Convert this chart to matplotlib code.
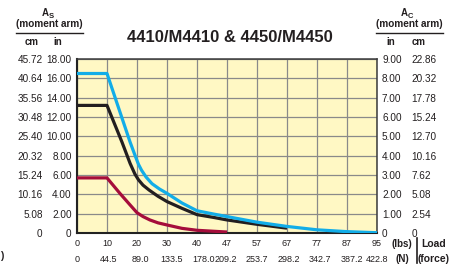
import matplotlib
matplotlib.use("Agg")
import matplotlib.pyplot as plt
import numpy as np

plt.rcParams['font.family'] = ['Liberation Sans', 'DejaVu Sans']

# x axis: evenly spaced ticks, non-linear load values
load_lbs = [0, 10, 20, 30, 40, 47, 57, 67, 77, 87, 95]
load_n = ['0', '44.5', '89.0', '133.5', '178.0', '209.2', '253.7',
          '298.2', '342.7', '387.2', '422.8']
arm_in = [0, 2, 4, 6, 8, 10, 12, 14, 16, 18]
arm_in_right = [0, 1, 2, 3, 4, 5, 6, 7, 8, 9]

# curves (load in lbs, moment arm in inches on the left scale)
blue_x = [0, 10, 17.7, 19.5, 20.5, 21.5, 23, 25, 27.5, 30, 35, 40, 44, 47,
          57, 67, 77, 87, 95]
blue_y = [16.5, 16.5, 9.4, 7.9, 7.1, 6.5, 5.8, 5.1, 4.55, 4.1, 3.1, 2.3,
          1.95, 1.7, 1.12, 0.68, 0.33, 0.14, 0.03]
black_x = [0, 10, 15, 17.7, 19.3, 20.5, 22, 24, 27, 30, 35, 40, 44, 47,
           57, 67]
black_y = [13.2, 13.2, 9.4, 7.2, 6.1, 5.5, 4.95, 4.45, 3.8, 3.25, 2.55, 1.9,
           1.6, 1.35, 0.9, 0.5]
red_x = [0, 10, 14.3, 17.7, 20, 22, 24.3, 27, 30, 35, 40, 47]
red_y = [5.7, 5.7, 4.1, 2.9, 2.1, 1.7, 1.35, 1.05, 0.83, 0.48, 0.28, 0.1]

txt = '#231f20'


def fwd(x):
    return np.interp(x, load_lbs, np.arange(len(load_lbs)))


def inv(x):
    return np.interp(x, np.arange(len(load_lbs)), load_lbs)


def fmt(v):
    return '0' if v == 0 else '%.2f' % v


fig = plt.figure(figsize=(4.66, 2.65), dpi=100)
ax = fig.add_axes([77 / 466, 1 - 233 / 265, 300 / 466, 174 / 265])
ax.set_xscale('function', functions=(fwd, inv))
ax.set_facecolor('#fff8c4')

ax.plot(red_x, red_y, color='#a50d3b', lw=2.3, solid_capstyle='butt', zorder=3)
ax.plot(black_x, black_y, color='#231f20', lw=2.3, solid_capstyle='butt', zorder=3)
ax.plot(blue_x, blue_y, color='#12ade8', lw=2.3, solid_capstyle='butt', zorder=4)

ax.set_xlim(0, 95)
ax.set_ylim(0, 18)
ax.grid(True, color='#8a8a8a', lw=0.9)
ax.set_axisbelow(True)
for s in ax.spines.values():
    s.set_color('#3a3a3a')
    s.set_linewidth(1.1)
ax.spines['left'].set_color('#222222')
ax.spines['bottom'].set_color('#222222')
ax.spines['left'].set_linewidth(1.5)
ax.spines['bottom'].set_linewidth(1.5)

ysize = 7.2
xsize = 6.5

# left: inches
ax.set_yticks(arm_in, labels=[fmt(v) for v in arm_in])
ax.tick_params(axis='y', length=0, pad=3.8, labelsize=ysize, labelcolor=txt)
# bottom: lbs
ax.set_xticks(load_lbs, labels=[str(v) for v in load_lbs])
ax.tick_params(axis='x', length=0, pad=4.2, labelsize=xsize, labelcolor=txt)

# left: cm
lcm = ax.secondary_yaxis('left', functions=(lambda y: y * 2.54, lambda y: y / 2.54))
lcm.set_yticks([v * 2.54 for v in arm_in], labels=[fmt(v * 2.54) for v in arm_in])
lcm.tick_params(length=0, pad=24.7, labelsize=ysize, labelcolor=txt)
lcm.spines['left'].set_visible(False)

# right: inches and cm
rin = ax.secondary_yaxis('right', functions=(lambda y: y / 2, lambda y: y * 2))
rin.set_yticks(arm_in_right, labels=[fmt(v) for v in arm_in_right])
rin.tick_params(length=0, pad=3.6, labelsize=ysize, labelcolor=txt)
rin.spines['right'].set_visible(False)
rcm = ax.secondary_yaxis('right', functions=(lambda y: y / 2 * 2.54, lambda y: y * 2 / 2.54))
rcm.set_yticks([v * 2.54 for v in arm_in_right], labels=[fmt(v * 2.54) for v in arm_in_right])
rcm.tick_params(length=0, pad=24.8, labelsize=ysize, labelcolor=txt)
rcm.spines['right'].set_visible(False)

# bottom: newtons
bn = ax.secondary_xaxis('bottom', functions=(lambda x: x, lambda x: x))
bn.set_xticks(load_lbs, labels=load_n)
bn.tick_params(length=0, pad=15.5, labelsize=xsize, labelcolor=txt)
bn.spines['bottom'].set_visible(False)

# title
fig.text(230 / 466, 1 - 37 / 265, '4410/M4410 & 4450/M4450', ha='center', va='center',
         fontsize=12, fontweight='bold', color=txt)

# headers
def header(cx, ax_x, sub, x0, x1, cols):
    fig.text(ax_x / 466, 1 - 13 / 265, 'A', ha='right', va='center', fontsize=7,
             fontweight='bold', color=txt)
    fig.text((ax_x + 0.5) / 466, 1 - 16 / 265, sub, ha='left', va='center', fontsize=5.5,
             fontweight='bold', color=txt)
    fig.text(cx / 466, 1 - 24 / 265, '(moment arm)', ha='center', va='center', fontsize=7.2,
             fontweight='bold', color=txt)
    fig.add_artist(plt.Line2D([x0 / 466, x1 / 466], [1 - 33 / 265, 1 - 33 / 265],
                              color=txt, lw=1.0))
    for label, x in cols:
        fig.text(x / 466, 1 - 42 / 265, label, ha='center', va='center', fontsize=7,
                 fontweight='bold', color=txt)


header(49.5, 48.5, 'S', 16, 83, [('cm', 31.5), ('in', 57.5)])
header(409.5, 407.5, 'C', 376, 443, [('in', 391), ('cm', 418.5)])

# load label block
fig.text(402 / 466, 1 - 244 / 265, '(lbs)', ha='center', va='center', fontsize=7,
         fontweight='bold', color=txt)
fig.text(402 / 466, 1 - 258.5 / 265, '(N)', ha='center', va='center', fontsize=7,
         fontweight='bold', color=txt)
fig.add_artist(plt.Line2D([416.5 / 466, 416.5 / 466], [1 - 238 / 265, 1 - 263 / 265],
                          color=txt, lw=1.2))
fig.text(434 / 466, 1 - 244 / 265, 'Load', ha='center', va='center', fontsize=7.5,
         fontweight='bold', color=txt)
fig.text(433.5 / 466, 1 - 258.5 / 265, '(force)', ha='center', va='center', fontsize=7.5,
         fontweight='bold', color=txt)
fig.text(0, 1 - 256 / 265, ')', ha='left', va='center', fontsize=7.5,
         fontweight='bold', color=txt)

fig.savefig('out.png', dpi=100)
